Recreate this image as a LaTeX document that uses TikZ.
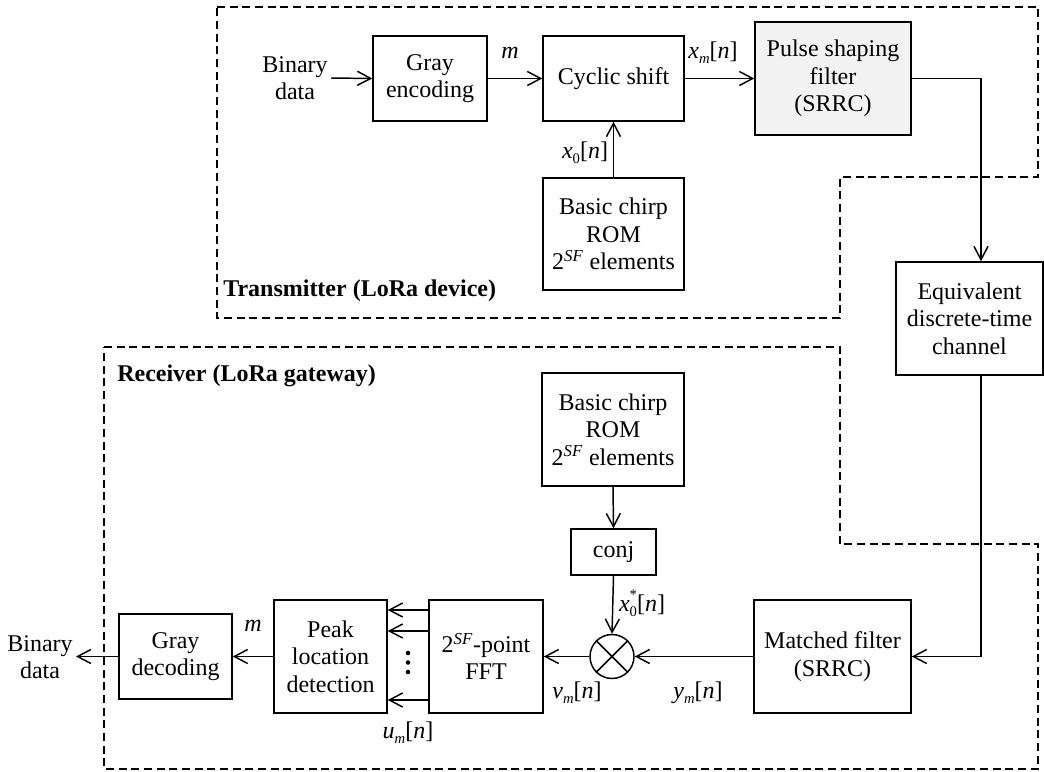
\documentclass[tikz,border=0pt]{standalone}
\usepackage{fontspec}
\setmainfont{Liberation Serif}
\usetikzlibrary{arrows.meta}
\newcommand{\subsz}{\fontsize{11}{11}\selectfont}
\newcommand{\sgl}[2]{\textit{#1}\raisebox{-0.45ex}{\subsz\textit{#2}}[\textit{n}]}
\newcommand{\xzero}{\textit{x}\raisebox{-0.45ex}{\subsz 0}[\textit{n}]}
\newcommand{\xzerostar}{\textit{x}\makebox[0pt][l]{\raisebox{1.1ex}{\subsz *}}\raisebox{-0.45ex}{\subsz 0}[\textit{n}]}
\newcommand{\tsf}{2\textsuperscript{\textit{SF}}}
\begin{document}
\begin{tikzpicture}[x=0.75pt,y=-0.75pt,
  every node/.style={font=\fontsize{18}{20.6}\selectfont},
  blk/.style={draw, line width=1.1pt, align=center, inner sep=0pt},
  arr/.style={line width=1.1pt, -{Straight Barb[length=10pt,width=10.5pt,line width=1.1pt]}},
  ln/.style={line width=1.1pt},
  region/.style={dash pattern=on 6pt off 3.5pt, line width=1.1pt},
  lbl/.style={inner sep=0pt, align=center},
  boldlbl/.style={inner sep=0pt, anchor=west, font=\fontsize{18}{20.6}\selectfont\bfseries}]
\useasboundingbox (0,0) rectangle (1044,771);

% regions
\draw[region] (217,7) -- (1038,7) -- (1038,177) -- (840,177) -- (840,318) -- (217,318) -- cycle;
\draw[region] (104,347) -- (840,347) -- (840,544) -- (1038,544) -- (1038,769) -- (104,769) -- cycle;
\node[boldlbl] (txlbl) at (223,291) {Transmitter (LoRa device)};
\node[boldlbl] (rxlbl) at (117,376) {Receiver (LoRa gateway)};

% transmitter blocks
\node[blk, minimum width=85.5pt, minimum height=63.75pt] (grayenc) at (430,78.5) {Gray\\encoding};
\node[blk, minimum width=105.75pt, minimum height=63.75pt] (cyclic) at (613.5,78.5) {Cyclic shift};
\node[blk, fill={rgb,255:red,242;green,242;blue,242}, minimum width=117pt, minimum height=84.75pt] (pulse) at (833,78.5) {Pulse shaping\\filter\\(SRRC)};
\node[blk, minimum width=105.75pt, minimum height=84pt] (romtx) at (613.5,234) {Basic chirp\\ROM\\\tsf{} elements};

% channel
\node[blk, minimum width=110.25pt, minimum height=84.75pt] (channel) at (969.5,318.5) {Equivalent\\discrete-time\\channel};

% receiver blocks
\node[blk, minimum width=106.5pt, minimum height=84.75pt] (romrx) at (613,429.5) {Basic chirp\\ROM\\\tsf{} elements};
\node[blk, minimum width=63.75pt, minimum height=34.5pt] (conj) at (613.5,552) {conj};
\node[draw, circle, line width=1.1pt, minimum size=33pt, inner sep=0pt] (mult) at (612,656.5) {};
\draw[ln] (mult.north west) -- (mult.south east);
\draw[ln] (mult.north east) -- (mult.south west);
\node[blk, minimum width=117.75pt, minimum height=84.75pt] (matched) at (832.5,656.5) {Matched filter\\(SRRC)};
\node[blk, minimum width=85.5pt, minimum height=84.75pt] (fft) at (486,656.5) {\tsf-point\\FFT};
\node[blk, minimum width=84.75pt, minimum height=84.75pt] (peak) at (330.5,656.5) {Peak\\location\\detection};
\node[blk, minimum width=84.75pt, minimum height=63.75pt] (graydec) at (175.5,656.5) {Gray\\decoding};

% labels
\node[lbl] (bintx) at (295,78) {Binary\\data};
\node[lbl] (binrx) at (40,657) {Binary\\data};
\node[lbl] (mtx) at (510,53) {\textit{m}};
\node[lbl] (xm) at (713,53) {\sgl{x}{m}};
\node[lbl] (x0) at (585,153) {\xzero};
\node[lbl] (x0s) at (642,603) {\xzerostar};
\node[lbl] (ym) at (698,693) {\sgl{y}{m}};
\node[lbl] (vm) at (577,693) {\sgl{v}{m}};
\node[lbl] (um) at (408,733) {\sgl{u}{m}};
\node[lbl] (mrx) at (253,626) {\textit{m}};

% coordinates
\coordinate (binin) at (331,78);
\coordinate (binend) at (76,656.5);
\coordinate (chx) at (981,0);
\coordinate (ya) at (0,610);
\coordinate (yb) at (0,631);
\coordinate (yc) at (0,700);

% transmitter connectors
\draw[arr] (binin) -- (grayenc.west);
\draw[arr] (grayenc.east) -- (cyclic.west);
\draw[arr] (cyclic.east) -- (pulse.west);
\draw[arr] (romtx.north) -- (cyclic.south);
\draw[arr] (pulse.east) -| (channel.north -| chx);
\draw[arr] (channel.south -| chx) |- (matched.east);

% receiver connectors
\draw[arr] (romrx.south) -- (conj.north);
\draw[arr] (conj.south) -- (mult.north);
\draw[arr] (matched.west) -- (mult.east);
\draw[arr] (mult.west) -- (fft.east);
\draw[arr] (fft.west |- ya) -- (peak.east |- ya);
\draw[arr] (fft.west |- yb) -- (peak.east |- yb);
\draw[arr] (fft.west |- yc) -- (peak.east |- yc);
\fill (408,653) circle (1.7pt) (408,662.5) circle (1.7pt) (408,672) circle (1.7pt);
\draw[arr] (peak.west) -- (graydec.east);
\draw[arr] (graydec.west) -- (binend);
\end{tikzpicture}
\end{document}
